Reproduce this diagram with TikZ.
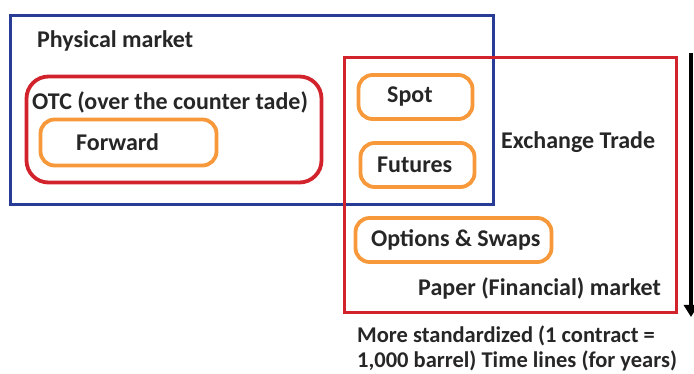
\documentclass[tikz,border=0pt]{standalone}
\usepackage{fontspec}
\setmainfont{Carlito}
\usetikzlibrary{arrows.meta}
\definecolor{phyblue}{RGB}{40,60,150}
\definecolor{mktred}{RGB}{210,35,45}
\definecolor{boxorange}{RGB}{247,153,58}
\definecolor{txtgray}{RGB}{38,38,38}
\begin{document}
\begin{tikzpicture}[x=1pt,y=-1pt,
  lbl/.style={font=\bfseries\fontsize{24}{25}\selectfont,text=txtgray,inner sep=0pt,anchor=west},
  mkt/.style={draw,line width=3.8pt,inner sep=0pt},
  obox/.style={draw=boxorange,line width=3.8pt,rounded corners=14pt,inner sep=0pt,minimum height=44pt}]
\useasboundingbox (0,0) rectangle (694,374);

% market boxes
\node[mkt,draw=phyblue,minimum width=483pt,minimum height=189pt] (physical) at (252,110) {};
\node[mkt,draw=mktred,minimum width=332pt,minimum height=255pt] (paper) at (510.5,185) {};
\node[mkt,draw=mktred,rounded corners=22pt,minimum width=295pt,minimum height=106pt] (otc) at (174,129.5) {};

% products
\node[obox,minimum width=176pt,minimum height=46pt] (forward) at (128.5,142.5) {};
\node[obox,minimum width=114pt] (spot) at (415.5,97) {};
\node[obox,minimum width=114pt] (futures) at (417.5,165) {};
\node[obox,minimum width=196pt] (options) at (453.5,240) {};

% labels
\node[lbl] (physlbl) at (37,41) {Physical market};
\node[lbl] (otclbl) at (32,102) {OTC (over the counter tade)};
\node[lbl] (fwdlbl) at (76,142) {Forward};
\node[lbl] (spotlbl) at (387,97) {Spot};
\node[lbl] (futlbl) at (377,165) {Futures};
\node[lbl] (exchlbl) at (501,142) {Exchange Trade};
\node[lbl] (optlbl) at (371,240) {Options \& Swaps};
\node[lbl] (paperlbl) at (418,288) {Paper (Financial) market};
\node[lbl,anchor=north west,align=left,font=\bfseries\fontsize{22.5}{25}\selectfont] (stdlbl) at (357,326) {More standardized (1 contract =\\1,000 barrel) Time lines (for years)};

% arrow
\coordinate (arrtop) at (691,53);
\coordinate (arrbot) at (691,317);
\draw[line width=4pt,-{Triangle[length=12pt,width=14pt]}] (arrtop) -- (arrbot);
\end{tikzpicture}
\end{document}
